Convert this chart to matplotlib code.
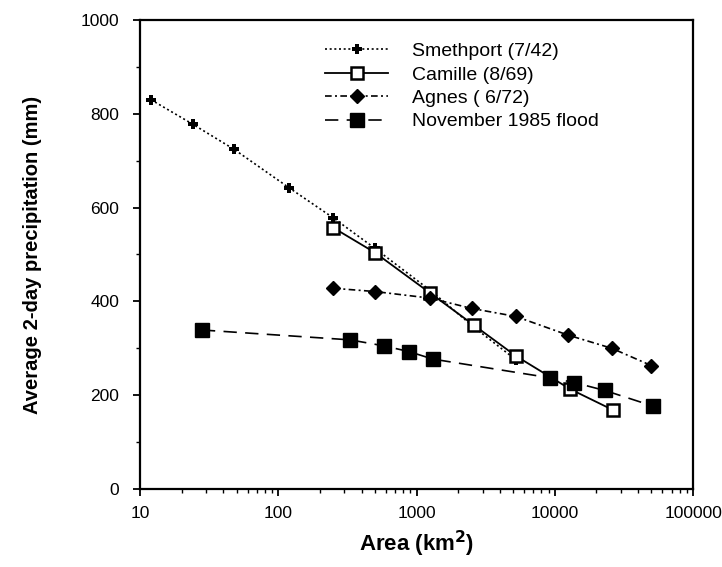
import numpy as np
from matplotlib import pyplot as plt

plt.rcParams['font.family'] = ['Liberation Sans', 'DejaVu Sans']

# data
smeth_area = [12, 24, 48, 120, 250, 500, 1300, 2600, 5200]
smeth_p = [830, 778, 724, 642, 578, 513, 420, 345, 276]

camille_area = [250, 500, 1250, 2580, 5200, 12900, 26500]
camille_p = [557, 504, 418, 350, 284, 213, 168]

agnes_area = [250, 500, 1250, 2500, 5200, 12500, 25800, 50000]
agnes_p = [428, 421, 407, 385, 368, 328, 300, 263]

nov_area = [28, 330, 585, 880, 1310, 9250, 13800, 23000, 51000]
nov_p = [339, 318, 305, 293, 277, 237, 227, 210, 177]

xticks = [10, 100, 1000, 10000, 100000]
xlabels = ["10", "100", "1000", "10000", "100000"]
yticks = [0, 200, 400, 600, 800, 1000]

fig = plt.figure(figsize=(7.22, 5.67), dpi=100)
ax = fig.add_axes([0.194, 0.1376, 0.766, 0.8271])

ax.plot(smeth_area, smeth_p, color="black", linestyle=(0, (1.2, 1.6)), linewidth=1.2,
        marker="P", markersize=6.5, markeredgewidth=0, label="Smethport (7/42)")
ax.plot(camille_area, camille_p, color="black", linestyle="-", linewidth=1.3,
        marker="s", markersize=8.5, markerfacecolor="white", markeredgewidth=1.8,
        label="Camille (8/69)")
ax.plot(agnes_area, agnes_p, color="black", linestyle=(0, (4, 2, 1.2, 2)), linewidth=1.2,
        marker="D", markersize=7, label="Agnes ( 6/72)")
ax.plot(nov_area, nov_p, color="black", linestyle=(0, (8, 5)), linewidth=1.2,
        marker="s", markersize=9.5, label="November 1985 flood")

ax.set_xscale("log")
ax.set_xlim(10, 100000)
ax.set_ylim(0, 1000)
ax.set_xticks(xticks)
ax.set_xticklabels(xlabels)
ax.set_yticks(yticks)
ax.set_yticks(np.arange(100, 1000, 200), minor=True)
ax.tick_params(which="major", direction="out", length=5, width=1.3, labelsize=12.5)
ax.tick_params(axis="y", which="major", pad=10)
ax.tick_params(axis="x", which="major", pad=7)
ax.tick_params(which="minor", direction="out", length=3, width=1.0)
for s in ax.spines.values():
    s.set_linewidth(1.6)

ax.set_xlabel("Area (km$^\\mathbf{2}$)", fontsize=16, fontweight="bold", labelpad=6)
ax.set_ylabel("Average 2-day precipitation (mm)", fontsize=14.5, fontweight="bold", labelpad=28)

ax.legend(loc="upper left", bbox_to_anchor=(0.3345, 0.952), frameon=False, fontsize=14,
          handlelength=3.25, handletextpad=1.2, labelspacing=0.3, borderaxespad=0,
          borderpad=0)

plt.savefig("out.png", dpi=100)
